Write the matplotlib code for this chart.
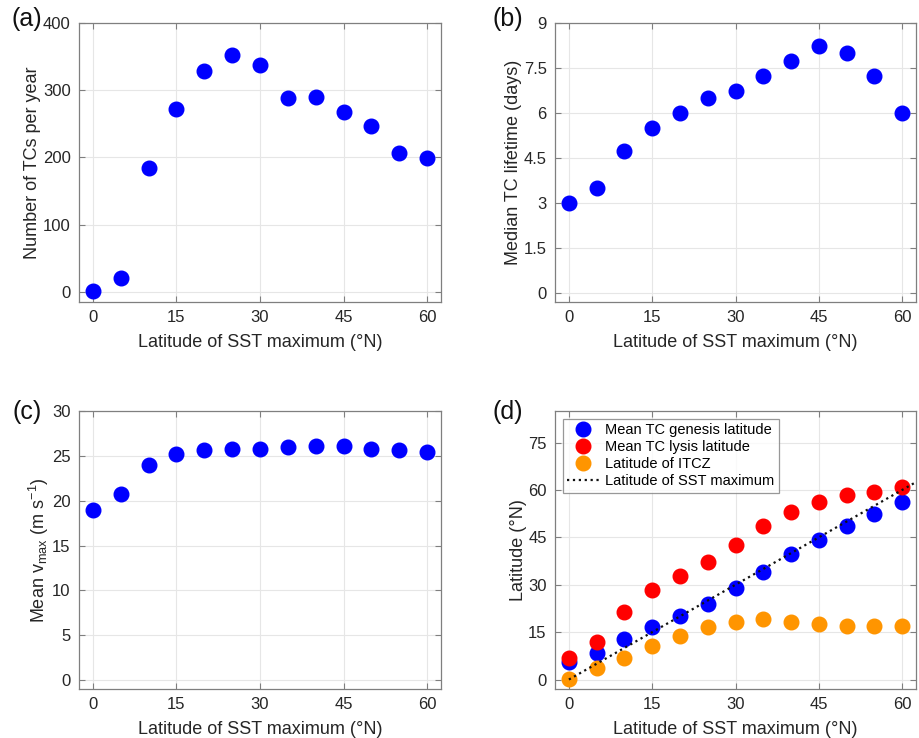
import matplotlib
matplotlib.use('Agg')
import matplotlib.pyplot as plt
import numpy as np

plt.rcParams['font.family'] = ['Liberation Sans', 'DejaVu Sans']
plt.rcParams['mathtext.default'] = 'regular'

# latitude of SST maximum (degrees N)
lat_sst = [0, 5, 10, 15, 20, 25, 30, 35, 40, 45, 50, 55, 60]

# (a) number of TCs per year
n_tcs = [2, 21, 185, 272, 328, 352, 337, 288, 290, 267, 247, 207, 199]
# (b) median TC lifetime (days)
lifetime = [3.0, 3.5, 4.75, 5.5, 6.0, 6.5, 6.75, 7.25, 7.75, 8.25, 8.0, 7.25, 6.0]
# (c) mean vmax (m/s)
vmax = [19.0, 20.8, 24.0, 25.2, 25.7, 25.8, 25.8, 26.0, 26.1, 26.1, 25.8, 25.7, 25.4]
# (d) latitudes (degrees N)
genesis_lat = [5.7, 8.3, 12.8, 16.5, 20.0, 23.9, 28.9, 34.1, 39.8, 44.2, 48.7, 52.5, 56.2]
lysis_lat = [6.9, 11.8, 21.4, 28.2, 32.8, 37.3, 42.5, 48.6, 52.9, 56.2, 58.4, 59.5, 60.8]
itcz_lat = [0.2, 3.7, 6.7, 10.7, 13.7, 16.6, 18.2, 19.1, 18.2, 17.7, 17.1, 17.1, 17.1]
sst_line_x = [0, 65]

xticks = [0, 15, 30, 45, 60]

fig = plt.figure(figsize=(9.2, 7.38), dpi=100)

W, H = 920, 738
def box(l, t, r, b):
    return [l / W, 1 - b / H, (r - l) / W, (b - t) / H]

ax_a = fig.add_axes(box(79, 23, 441, 302))
ax_b = fig.add_axes(box(555, 23, 916, 302))
ax_c = fig.add_axes(box(79, 411, 441, 689))
ax_d = fig.add_axes(box(555, 411, 916, 689))

edge = '#7f7f7f'
ms = 10.5

def style(ax, ylim, yticks, ylabel, xlabel=True):
    ax.set_xlim(-2.5, 62.5)
    ax.set_ylim(*ylim)
    ax.set_xticks(xticks)
    ax.set_yticks(yticks)
    ax.grid(True, color='#e6e6e6', linewidth=0.8)
    ax.set_axisbelow(True)
    ax.tick_params(direction='in', top=True, right=True, length=4,
                   color=edge, labelsize=12, labelcolor='#262626', pad=6)
    for s in ax.spines.values():
        s.set_color(edge)
        s.set_linewidth(0.9)
    ax.set_ylabel(ylabel, fontsize=13, color='#262626', labelpad=1)
    if xlabel:
        ax.set_xlabel('Latitude of SST maximum (°N)', fontsize=13,
                      color='#262626', labelpad=6)

ax_a.plot(lat_sst, n_tcs, 'o', color='#0000ff', ms=ms)
style(ax_a, (-15, 400), [0, 100, 200, 300, 400], 'Number of TCs per year')

ax_b.plot(lat_sst, lifetime, 'o', color='#0000ff', ms=ms)
style(ax_b, (-0.3, 9), [0, 1.5, 3, 4.5, 6, 7.5, 9], 'Median TC lifetime (days)')
ax_b.set_yticklabels(['0', '1.5', '3', '4.5', '6', '7.5', '9'])

ax_c.plot(lat_sst, vmax, 'o', color='#0000ff', ms=ms)
style(ax_c, (-1, 30), [0, 5, 10, 15, 20, 25, 30], r'Mean v$_{max}$ (m s$^{-1}$)')

ax_d.plot(lat_sst, genesis_lat, 'o', color='#0000ff', ms=ms, label='Mean TC genesis latitude')
ax_d.plot(lat_sst, lysis_lat, 'o', color='#ff0000', ms=ms, label='Mean TC lysis latitude')
ax_d.plot(lat_sst, itcz_lat, 'o', color='#ff9500', ms=ms, label='Latitude of ITCZ')
ax_d.plot(sst_line_x, sst_line_x, ':', color='#111111', lw=1.6, label='Latitude of SST maximum')
style(ax_d, (-3, 85), [0, 15, 30, 45, 60, 75], 'Latitude (°N)')
leg = ax_d.legend(loc='upper left', fontsize=10.5, frameon=True, fancybox=False,
                  borderpad=0.3, labelspacing=0.2, handlelength=2.2,
                  handletextpad=0.4, borderaxespad=0.55)
leg.get_frame().set_edgecolor(edge)
leg.get_frame().set_linewidth(0.9)

for lbl, x, y in [('(a)', 12, 19), ('(b)', 493, 19), ('(c)', 13, 412), ('(d)', 493, 412)]:
    fig.text(x / W, 1 - y / H, lbl, fontsize=18, va='center', ha='left', color='#111111')

fig.savefig('out.png', dpi=100)
